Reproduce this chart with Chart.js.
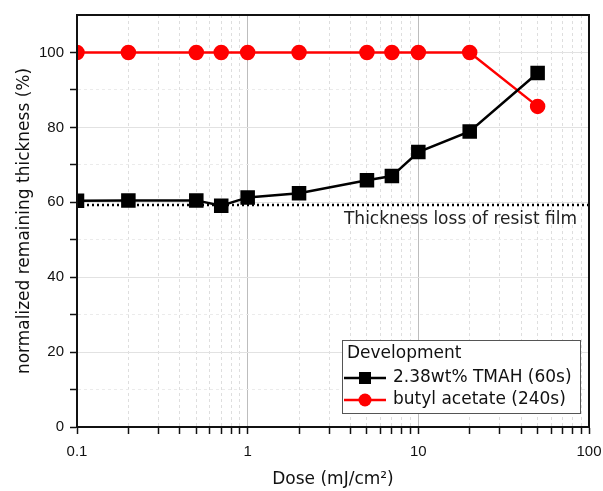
<!DOCTYPE html>
<html>
<head>
<meta charset="utf-8">
<script src="https://cdn.jsdelivr.net/npm/chart.js@4.4.1/dist/chart.umd.min.js"></script>
<style>
  html, body { margin: 0; padding: 0; background: #fff; }
  #wrap { width: 603px; height: 491px; }
</style>
</head>
<body>
<div id="wrap"><canvas id="doseChart"></canvas></div>
<script>
// dose (mJ/cm2) and remaining thickness (%)
const doses = [0.1, 0.2, 0.5, 0.7, 1, 2, 5, 7, 10, 20, 50];
const tmah = [60.4, 60.5, 60.5, 59.1, 61.3, 62.4, 65.9, 67.0, 73.4, 78.9, 94.5];
const butyl = [100, 100, 100, 100, 100, 100, 100, 100, 100, 100, 85.6];
const lossLevel = 59.3;
const lossRange = [0.1, 100];
const xDecades = [0.1, 1, 10, 100];
const yTickLabels = [0, 20, 40, 60, 80, 100];

const txt = '"DejaVu Sans", sans-serif';
const isDecade = v => Math.abs(Math.log10(v) - Math.round(Math.log10(v))) < 1e-6;

// box around plot, annotation text, legend in the lower right
const framePlugin = {
  id: 'frame',
  afterDraw(chart) {
    const { ctx, chartArea: a, scales } = chart;
    ctx.save();
    ctx.strokeStyle = '#111';
    ctx.lineWidth = 2;
    ctx.strokeRect(a.left, a.top, a.right - a.left, a.bottom - a.top);

    ctx.font = '17px ' + txt;
    ctx.fillStyle = '#222';
    ctx.textAlign = 'right';
    ctx.textBaseline = 'middle';
    ctx.fillText('Thickness loss of resist film', a.right - 12, scales.y.getPixelForValue(lossLevel) + 15);

    // legend
    const w = 238, h = 73;
    const lx = a.right - 9 - w, ly = a.bottom - 14 - h;
    ctx.fillStyle = '#fff';
    ctx.fillRect(lx, ly, w, h);
    ctx.strokeStyle = '#555';
    ctx.lineWidth = 1;
    ctx.strokeRect(lx + 0.5, ly + 0.5, w, h);
    ctx.fillStyle = '#111';
    ctx.textAlign = 'left';
    ctx.fillText('Development', lx + 5, ly + 14);
    chart.data.datasets.slice(0, 2).forEach((ds, i) => {
      const yy = ly + 38 + i * 22;
      ctx.strokeStyle = ds.borderColor;
      ctx.lineWidth = 2.5;
      ctx.beginPath();
      ctx.moveTo(lx + 2, yy);
      ctx.lineTo(lx + 44, yy);
      ctx.stroke();
      ctx.fillStyle = ds.backgroundColor;
      if (ds.pointStyle === 'rect') {
        ctx.fillRect(lx + 23 - 6, yy - 6, 12, 12);
      } else {
        ctx.beginPath();
        ctx.arc(lx + 23, yy, 6.5, 0, Math.PI * 2);
        ctx.fill();
      }
      ctx.fillStyle = '#111';
      ctx.fillText(ds.label, lx + 51, yy);
    });
    ctx.restore();
  }
};

new Chart(document.getElementById('doseChart'), {
  type: 'scatter',
  data: {
    datasets: [{
      label: '2.38wt% TMAH (60s)',
      data: doses.map((d, i) => ({ x: d, y: tmah[i] })),
      showLine: true,
      borderColor: '#000',
      backgroundColor: '#000',
      borderWidth: 2.5,
      pointStyle: 'rect',
      pointRadius: 8.5,
      pointHoverRadius: 8.5
    },
    {
      label: 'butyl acetate (240s)',
      data: doses.map((d, i) => ({ x: d, y: butyl[i] })),
      showLine: true,
      borderColor: '#ff0000',
      backgroundColor: '#ff0000',
      borderWidth: 2.5,
      pointStyle: 'circle',
      pointRadius: 6.5,
      pointHoverRadius: 6.5
    },
    {
      label: 'loss',
      data: lossRange.map(d => ({ x: d, y: lossLevel })),
      showLine: true,
      borderColor: '#000',
      borderWidth: 2.5,
      borderDash: [2, 3],
      pointRadius: 0
    }]
  },
  options: {
    responsive: true,
    maintainAspectRatio: false,
    animation: false,
    layout: { padding: { left: 0, top: 14, right: 14, bottom: 0 } },
    plugins: {
      legend: { display: false },
      tooltip: { enabled: false }
    },
    scales: {
      x: {
        type: 'logarithmic',
        min: 0.1,
        max: 100,
        afterBuildTicks(scale) {
          const list = [];
          [0.1, 1, 10].forEach(d => {
            for (let k = 1; k < 10; k++) list.push({ value: k * d });
          });
          list.push({ value: 100 });
          scale.ticks = list;
        },
        afterFit(scale) {
          scale.height = 64;
          scale.paddingLeft = 0;
          scale.paddingRight = 0;
        },
        ticks: {
          autoSkip: false,
          maxRotation: 0,
          padding: 9,
          color: '#111',
          font: { family: '"Liberation Sans", Arial, sans-serif', size: 15 },
          callback: v => xDecades.some(d => Math.abs(d - v) < 1e-9) ? String(v) : ''
        },
        grid: {
          drawTicks: true,
          tickLength: 7,
          tickWidth: 1.5,
          tickColor: '#111',
          lineWidth: 1,
          color: ctx => {
            if (!ctx.tick) return 'rgba(0,0,0,0)';
            const v = ctx.tick.value;
            if (v <= 0.1 + 1e-9 || v >= 100 - 1e-9) return 'rgba(0,0,0,0)';
            return isDecade(v) ? '#bdbdbd' : '#dedede';
          }
        },
        border: {
          color: '#111',
          width: 2,
          dash: ctx => (ctx.tick && !isDecade(ctx.tick.value)) ? [3, 3] : []
        },
        title: {
          display: true,
          text: 'Dose (mJ/cm²)',
          color: '#111',
          font: { family: txt, size: 17 },
          padding: { top: 0, bottom: 1 }
        }
      },
      y: {
        min: 0,
        max: 110,
        afterFit(scale) { scale.width = 77; },
        ticks: {
          stepSize: 10,
          padding: 6,
          color: '#111',
          font: { family: '"Liberation Sans", Arial, sans-serif', size: 15 },
          callback: v => yTickLabels.includes(v) ? String(v) : ''
        },
        grid: {
          tickLength: 7,
          tickWidth: 1.5,
          tickColor: ctx => (ctx.tick && ctx.tick.value >= 110) ? 'rgba(0,0,0,0)' : '#111',
          lineWidth: 1,
          color: ctx => {
            if (!ctx.tick) return 'rgba(0,0,0,0)';
            const v = ctx.tick.value;
            if (v <= 0 || v >= 110) return 'rgba(0,0,0,0)';
            return v % 20 === 0 ? '#e2e2e2' : '#ebebeb';
          }
        },
        border: {
          color: '#111',
          width: 2,
          dash: ctx => (ctx.tick && ctx.tick.value % 20 !== 0) ? [3, 3] : []
        },
        title: {
          display: true,
          text: 'normalized remaining thickness (%)',
          color: '#111',
          font: { family: txt, size: 17 },
          padding: { top: 14, bottom: 0 }
        }
      }
    }
  },
  plugins: [framePlugin]
});
</script>
</body>
</html>
